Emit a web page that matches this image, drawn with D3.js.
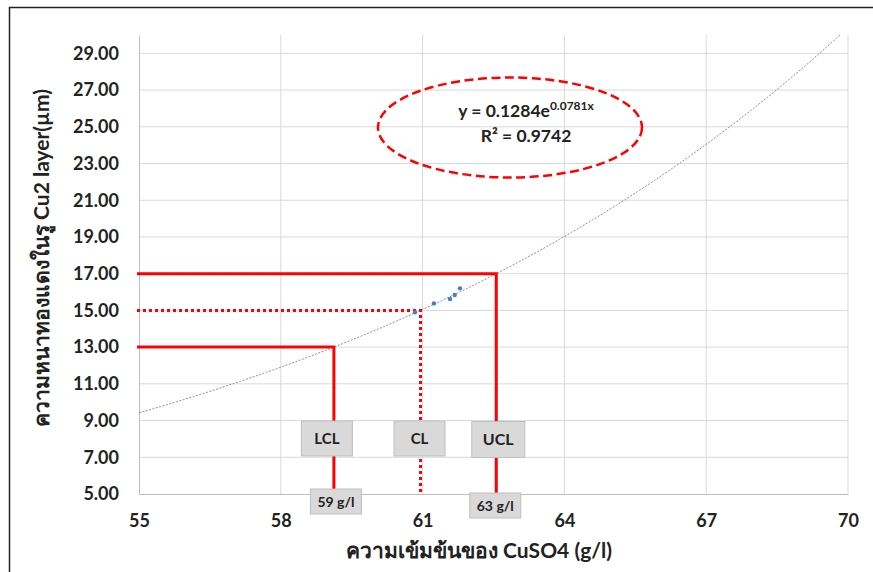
<!DOCTYPE html>
<html>
<head>
<meta charset="utf-8">
<script src="https://cdn.jsdelivr.net/npm/d3@7/dist/d3.min.js"></script>
<style>
  html, body { margin: 0; padding: 0; background: #fff; }
  svg { display: block; }
  text { font-family: Lato, "Noto Sans", "Liberation Sans", sans-serif; font-weight: bold; fill: #222; }
</style>
</head>
<body>
<svg id="chart" width="873" height="572"></svg>
<script>
// Measured thickness of the Cu2 layer vs CuSO4 concentration
const sampleConc = [60.84, 61.24, 61.58, 61.68, 61.79];
const sampleThick = [14.90, 15.38, 15.62, 15.84, 16.20];

// Exponential trendline y = a * e^(b x)
const trendA = 0.1284;
const trendB = 0.0781;

// Control limits (thickness, µm)
const limitNames = ["LCL", "CL", "UCL"];
const limitThick = [13, 15, 17];
const limitConcLabels = ["59 g/l", null, "63 g/l"];

// Axis ticks
const xTicks = [55, 58, 61, 64, 67, 70];
const yTicks = [5, 7, 9, 11, 13, 15, 17, 19, 21, 23, 25, 27, 29];

const svg = d3.select("#chart");
const plotL = 139, plotR = 848, plotT = 35, plotB = 494;

const x = d3.scaleLinear().domain([55, 70]).range([plotL, plotR]);
const y = d3.scaleLinear().domain([5, 30]).range([plotB, plotT]);

// outer frame
svg.append("rect").attr("x", 9.5).attr("y", 7.5).attr("width", 880).attr("height", 580)
  .attr("fill", "none").attr("stroke", "#222").attr("stroke-width", 1.5);

// gridlines
svg.append("g").selectAll("line").data(yTicks.filter(d => d > 5)).join("line")
  .attr("x1", plotL).attr("x2", plotR).attr("y1", d => y(d)).attr("y2", d => y(d))
  .attr("stroke", "#d9d9d9").attr("stroke-width", 1);
svg.append("g").selectAll("line").data(xTicks.filter(d => d > 55)).join("line")
  .attr("x1", d => x(d)).attr("x2", d => x(d)).attr("y1", plotT).attr("y2", plotB)
  .attr("stroke", "#d9d9d9").attr("stroke-width", 1);

// axes
const xAxis = svg.append("g").attr("transform", `translate(0,${plotB})`)
  .call(d3.axisBottom(x).tickValues(xTicks).tickSize(0).tickPadding(20).tickFormat(d3.format("d")));
xAxis.select(".domain").attr("stroke", "#bfbfbf");
xAxis.selectAll("text").style("font-size", "18px").attr("fill", "#222");

const yAxis = svg.append("g").attr("transform", `translate(${plotL},0)`)
  .call(d3.axisLeft(y).tickValues(yTicks).tickSize(0).tickPadding(20).tickFormat(d3.format(".2f")));
yAxis.select(".domain").attr("stroke", "#bfbfbf");
yAxis.selectAll("text").style("font-size", "18px").attr("fill", "#222");

// trendline
const xEnd = Math.log(30 / trendA) / trendB;
const trendPts = d3.range(55, xEnd, 0.05).concat([xEnd]).map(v => [v, trendA * Math.exp(trendB * v)]);
svg.append("path").datum(trendPts)
  .attr("d", d3.line().x(d => x(d[0])).y(d => y(d[1])))
  .attr("fill", "none").attr("stroke", "#8c8c8c").attr("stroke-width", 1)
  .attr("stroke-dasharray", "2,1.5");

// control limit lines: where each limit meets the trendline
const concAt = t => Math.log(t / trendA) / trendB;
limitThick.forEach((t, i) => {
  const cx = concAt(t);
  const dotted = limitNames[i] === "CL";
  const g = svg.append("g").attr("stroke", "#ff0000").attr("stroke-width", 3).attr("fill", "none");
  if (dotted) g.attr("stroke-dasharray", "3,3");
  g.append("path").attr("d", `M${x(55) - 2},${y(t)}H${x(cx)}V${plotB}`);
});

// data points
svg.append("g").selectAll("circle").data(sampleConc).join("circle")
  .attr("cx", (d) => x(d)).attr("cy", (d, i) => y(sampleThick[i])).attr("r", 2.2)
  .attr("fill", "#4a7ebb");

// limit name boxes
const nameBoxes = [
  { w: 51, h: 35, y: 421, dx: -7 },
  { w: 51, h: 35, y: 421, dx: -1 },
  { w: 53, h: 36, y: 421.5, dx: 2 }
];
limitThick.forEach((t, i) => {
  const b = nameBoxes[i];
  const cx = x(concAt(t)) + b.dx;
  const g = svg.append("g");
  g.append("rect").attr("x", cx - b.w / 2).attr("y", b.y).attr("width", b.w).attr("height", b.h)
    .attr("fill", "#d9d9d9").attr("stroke", "#bfbfbf").attr("stroke-width", 1);
  g.append("text").attr("x", cx).attr("y", b.y + b.h / 2 + 5).attr("text-anchor", "middle")
    .style("font-size", i === 2 ? "16px" : "15px").text(limitNames[i]);
});

// concentration boxes
const concBoxes = [{ y: 489, dx: 2 }, null, { y: 493, dx: -1 }];
limitThick.forEach((t, i) => {
  if (!limitConcLabels[i]) return;
  const cx = x(concAt(t)) + concBoxes[i].dx;
  const g = svg.append("g");
  g.append("rect").attr("x", cx - 25.5).attr("y", concBoxes[i].y).attr("width", 51).attr("height", 25)
    .attr("fill", "#d9d9d9").attr("stroke", "#bfbfbf").attr("stroke-width", 1);
  g.append("text").attr("x", cx).attr("y", concBoxes[i].y + 17.5).attr("text-anchor", "middle")
    .style("font-size", "14px").text(limitConcLabels[i]);
});

// equation ellipse
svg.append("ellipse").attr("cx", 510).attr("cy", 127.5).attr("rx", 132).attr("ry", 50)
  .attr("fill", "none").attr("stroke", "#ff0000").attr("stroke-width", 2.5)
  .attr("stroke-dasharray", "9,4.5");

const eq = svg.append("text").attr("x", 526).attr("y", 117).attr("text-anchor", "middle")
  .style("font-size", "17.5px");
eq.append("tspan").text(`y = ${trendA}e`);
eq.append("tspan").attr("dy", -7).style("font-size", "12px").text(`${trendB}x`);
svg.append("text").attr("x", 526).attr("y", 142).attr("text-anchor", "middle")
  .style("font-size", "17.5px").text("R² = 0.9742");

// axis titles
svg.append("text").attr("x", 479).attr("y", 558).attr("text-anchor", "middle")
  .style("font-size", "21px").text("ความเข้มข้นของ CuSO4 (g/l)");
svg.append("text").attr("transform", "translate(49,258) rotate(-90)").attr("text-anchor", "middle")
  .style("font-size", "21px").text("ความหนาทองแดงในรู Cu2 layer(µm)");
</script>
</body>
</html>
